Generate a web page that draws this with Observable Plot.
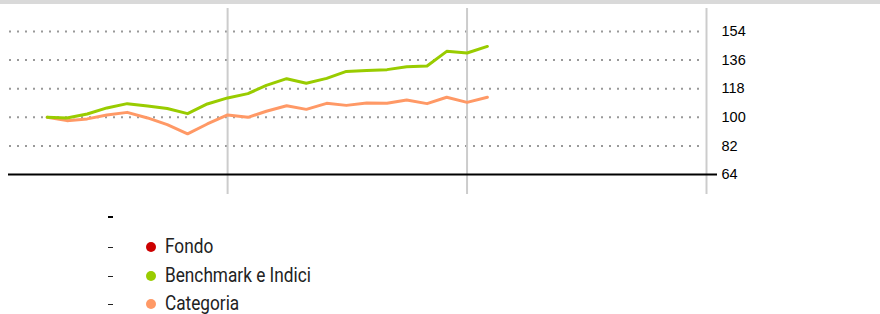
<!DOCTYPE html>
<html>
<head>
<meta charset="utf-8">
<script src="https://cdn.jsdelivr.net/npm/d3@7"></script>
<script src="https://cdn.jsdelivr.net/npm/@observablehq/plot@0.6"></script>
<style>
  html, body { margin: 0; padding: 0; background: #fff; }
  #wrap { position: relative; width: 880px; height: 314px; overflow: hidden; }
  #topbar { position: absolute; left: 0; top: 0; width: 880px; height: 4px; background: #d9d9d9; }
  #chart { position: absolute; left: 0; top: 0; }
  .leg { position: absolute; font-family: Roboto, "Noto Sans", sans-serif; font-size: 21px; font-weight: 400; color: #222; line-height: 1; transform: scaleX(0.82); transform-origin: 0 50%; white-space: nowrap; }
  .dash { position: absolute; width: 5px; height: 1px; background: #222; }
  .dash.bold { height: 2px; background: #000; }
  .dot { position: absolute; width: 10px; height: 10px; border-radius: 50%; }
</style>
</head>
<body>
<div id="wrap">
  <div id="chart"></div>
  <div id="topbar"></div>
  <div id="legend"></div>
</div>
<script>
const dates = ["2021-04-01","2021-05-01","2021-06-01","2021-07-01","2021-08-01","2021-09-01",
  "2021-10-01","2021-11-01","2021-12-01","2022-01-01","2022-02-01","2022-03-01","2022-04-01",
  "2022-05-01","2022-06-01","2022-07-01","2022-08-01","2022-09-01","2022-10-01","2022-11-01",
  "2022-12-01","2023-01-01","2023-02-01"];
const benchmark = [100.0, 99.6, 102.1, 105.9, 108.6, 107.1, 105.5, 102.3, 108.4, 112.2, 114.9, 120.1,
  124.3, 121.4, 124.5, 128.9, 129.5, 130.0, 131.8, 132.3, 141.5, 140.5, 144.6];
const categoria = [100.0, 97.9, 99.0, 101.5, 103.1, 99.6, 95.4, 89.6, 95.8, 101.5, 100.0, 103.8,
  107.3, 105.0, 108.8, 107.5, 109.0, 108.8, 110.9, 108.6, 112.6, 109.4, 112.6];
const yTicks = [64, 82, 100, 118, 136, 154];
const yearMarks = ["2022-01-01", "2023-01-01", "2024-01-01"];
const xDomain = ["2021-02-01", "2024-01-01"];
const legendNames = ["Fondo", "Benchmark e Indici", "Categoria"];
const legendColors = ["#cc0000", "#99cc00", "#ff9966"];

const benchData = dates.map((d, i) => ({date: new Date(d), value: benchmark[i]}));
const catData = dates.map((d, i) => ({date: new Date(d), value: categoria[i]}));

const chart = Plot.plot({
  width: 880,
  height: 200,
  marginLeft: 8,
  marginRight: 174,
  marginTop: 31,
  marginBottom: 26,
  style: {fontFamily: "'Liberation Sans', Arial, sans-serif", background: "transparent"},
  x: {type: "utc", domain: xDomain.map(d => new Date(d)), axis: null},
  y: {domain: [64, 154], axis: null},
  marks: [
    Plot.ruleY(yTicks.filter(t => t > 64), {stroke: "#999999", strokeWidth: 2, strokeDasharray: "2,6", insetRight: 6, insetLeft: 1}),
    Plot.ruleX(yearMarks, {x: d => new Date(d), stroke: "#cccccc", strokeWidth: 2, insetTop: -23, insetBottom: -20}),
    Plot.ruleY([64], {stroke: "#000", strokeWidth: 2, insetRight: -11}),
    Plot.line(catData, {x: "date", y: "value", stroke: "#ff9966", strokeWidth: 3}),
    Plot.line(benchData, {x: "date", y: "value", stroke: "#99cc00", strokeWidth: 3}),
    Plot.axisY({anchor: "right", ticks: yTicks, tickSize: 0, tickPadding: 15, fontSize: 14.5, fill: "#000", label: null})
  ]
});
document.getElementById("chart").appendChild(chart);

// legend
const leg = document.getElementById("legend");
const head = document.createElement("div");
head.className = "dash bold";
head.style.left = "108px"; head.style.top = "216px";
leg.appendChild(head);
const rowY = [247, 276, 304];
legendNames.forEach((name, i) => {
  const cy = rowY[i];
  const dash = document.createElement("div");
  dash.className = "dash";
  dash.style.left = "108px"; dash.style.top = (cy) + "px";
  leg.appendChild(dash);
  const dot = document.createElement("div");
  dot.className = "dot";
  dot.style.left = "146px"; dot.style.top = (cy - 5) + "px";
  dot.style.background = legendColors[i];
  leg.appendChild(dot);
  const t = document.createElement("div");
  t.className = "leg";
  t.textContent = name;
  t.style.left = "165px"; t.style.top = (cy - 11) + "px";
  leg.appendChild(t);
});
</script>
</body>
</html>
